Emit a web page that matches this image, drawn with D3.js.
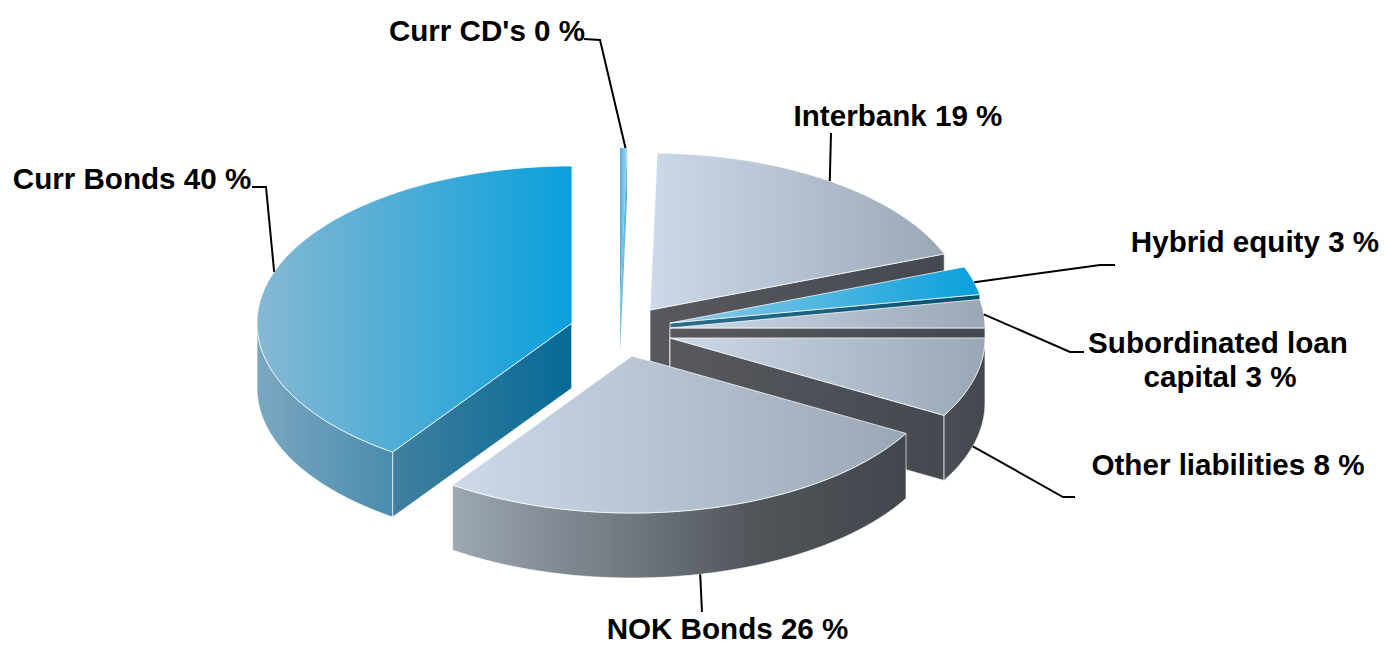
<!DOCTYPE html>
<html><head><meta charset="utf-8">
<script src="https://cdnjs.cloudflare.com/ajax/libs/d3/7.8.5/d3.min.js"></script>
<style>html,body{margin:0;background:#fff}svg{display:block}
text{font-family:"Liberation Sans",Arial,sans-serif;font-weight:700;font-size:29.6px;fill:#000;text-anchor:middle}</style>
</head><body><script>
// data (clockwise from 12 o'clock)
const categories=["Curr CD's","Interbank","Hybrid equity","Subordinated loan capital","Other liabilities","NOK Bonds","Curr Bonds"];
const shownPercent=[0,19,3,3,8,26,40];
const estimatedValues=[0.36,18.8,2.9,2.9,8.2,26.4,40.3];
const labelLines=[["Curr CD's 0 %"],["Interbank 19 %"],["Hybrid equity 3 %"],["Subordinated loan","capital 3 %"],["Other liabilities 8 %"],["NOK Bonds 26 %"],["Curr Bonds 40 %"]];

// layout
const W=1385,H=645,RX=315,RY=157,DEPTH=65;
const centres=[[620,305],[650,310],[670,323],[670,328],[670,338],[632,356],[572,323]];
const drawOrder=[1,2,3,4,0,6,5];
const labelPos=[[487,41],[898,126],[1255,252],[1218,352.5],[1228,475],[727.5,638.5],[132,189]];
const leaderAngle=[1,34.8,75,85,106,167.5,289]; // degrees on rim
const leaderPath=[[[600,40],[584,39]],[[831,133]],[[1100,265],[1115,265]],[[1070,352],[1084,352]],[[1063,497],[1075,497]],[[702,612]],[[266,187],[252,187]]];
const leaderOnBase=[0,0,0,0,1,1,0];
const tones={
 greyTop:["#ccd9e9","#9aa8b6"],greyRadial:["#58595f","#44494f"],greyOuter:["#4a4e55","#43484e"],
 nokOuter:["#9ca7b2","#4f5459","#42474d"],
 blueTop:["#86b8d2","#0aa0dc"],blueRadial:["#417f9f","#056a96"],blueOuter:["#7ba7c0","#4a8cae"],
 hybridTop:["#8fcbe6","#0aa0dc"],hybridRadial:["#2b6f8e","#05516f"],cdTop:["#55b0dc","#a8d8ee"],cdRadial:["#7cc3e4","#5fb3da"]
};
const sliceTones=[["cdTop","cdRadial","blueOuter"],["greyTop","greyRadial","greyOuter"],["hybridTop","hybridRadial","blueOuter"],["greyTop","greyRadial","greyOuter"],["greyTop","greyRadial","greyOuter"],["greyTop","greyRadial","nokOuter"],["blueTop","blueRadial","blueOuter"]];

const svg=d3.select("body").append("svg").attr("width",W).attr("height",H);
const defs=svg.append("defs");
Object.entries(tones).forEach(([k,c])=>{
  const g=defs.append("linearGradient").attr("id",k).attr("x1",0).attr("x2",1).attr("y1",0).attr("y2",0);
  const off=c.length===3?[0,.68,1]:[0,1];
  c.forEach((col,i)=>g.append("stop").attr("offset",off[i]).attr("stop-color",col));
});

const pie=d3.pie().sort(null).startAngle(0).endAngle(2*Math.PI);
const arcs=pie(estimatedValues);
const unitX=i=>d3.scaleLinear().domain([-1,1]).range([centres[i][0]-RX,centres[i][0]+RX]);
const unitY=i=>d3.scaleLinear().domain([-1,1]).range([centres[i][1]-RY,centres[i][1]+RY]);
const line=d3.line().curve(d3.curveLinear);
const rim=(i,a,dz=0)=>[unitX(i)(Math.sin(a)),unitY(i)(-Math.cos(a))+dz];
const apex=(i,dz=0)=>[centres[i][0],centres[i][1]+dz];
const sweep=(a0,a1)=>{const n=Math.max(2,Math.ceil((a1-a0)*80));return d3.range(n+1).map(k=>a0+(a1-a0)*k/n)};

const edge="rgba(255,255,255,.75)";
const marks=svg.append("g"),leaders=svg.append("g");
drawOrder.forEach(i=>{
  const {startAngle:a0,endAngle:a1}=arcs[i];
  const [tTop,tRad,tOut]=sliceTones[i];
  const g=marks.append("g").attr("class","slice").datum(arcs[i]);
  const radial=a=>[apex(i),rim(i,a),rim(i,a,i===0?DEPTH-17:DEPTH),apex(i,i===0?DEPTH-17:DEPTH)];
  if(Math.sin(a0)<0) g.append("path").attr("d",line(radial(a0))+"Z").attr("fill",`url(#${tRad})`).attr("stroke",edge).attr("stroke-width",.9);
  if(Math.sin(a1)>0) g.append("path").attr("d",line(radial(a1))+"Z").attr("fill",`url(#${tRad})`).attr("stroke",edge).attr("stroke-width",i===0?0:.9);
  const o0=Math.max(a0,Math.PI/2),o1=Math.min(a1,3*Math.PI/2);
  if(o1>o0){
    const s=sweep(o0,o1);
    const pts=s.map(a=>rim(i,a)).concat(s.slice().reverse().map(a=>rim(i,a,DEPTH)));
    g.append("path").attr("d",line(pts)+"Z").attr("fill",`url(#${tOut})`).attr("stroke",edge).attr("stroke-width",.9);
  }
  const top=[apex(i)].concat(sweep(a0,a1).map(a=>rim(i,a)));
  g.append("path").attr("d",line(top)+"Z").attr("fill",`url(#${tTop})`).attr("stroke",i===0?"none":edge).attr("stroke-width",1);

  const start=rim(i,leaderAngle[i]*Math.PI/180,leaderOnBase[i]?DEPTH:0);
  leaders.append("path").attr("d",line([start,...leaderPath[i]])).attr("fill","none").attr("stroke","#000").attr("stroke-width",2);
});

const labels=svg.append("g");
labelLines.forEach((ls,i)=>ls.forEach((t,k)=>labels.append("text").attr("x",labelPos[i][0]+k*2).attr("y",labelPos[i][1]+k*34).text(t)));
</script></body></html>
